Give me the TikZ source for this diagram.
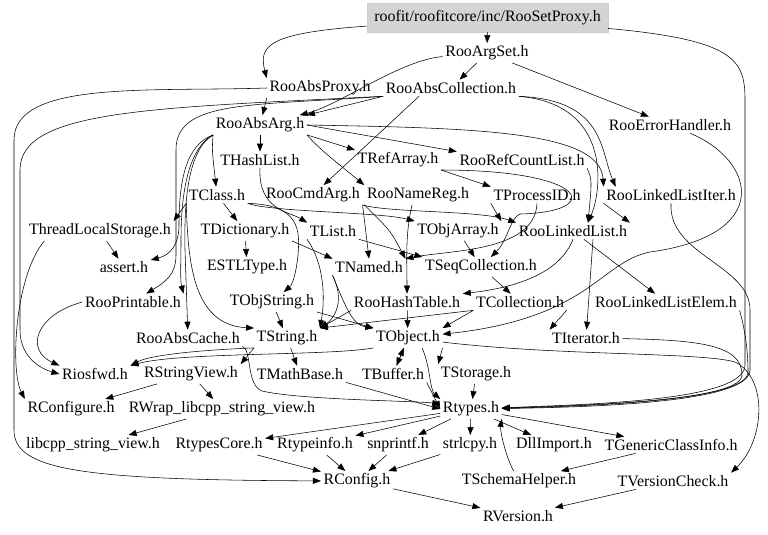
\documentclass[tikz,border=0pt]{standalone}
\usepackage{fontspec}
\setmainfont{Liberation Serif}
\usetikzlibrary{arrows.meta}

\begin{document}
\begin{tikzpicture}[x=1pt,y=1pt,
    hdr/.style={font=\fontsize{15.9}{18}\selectfont, inner sep=2.5pt},
    roothdr/.style={hdr, fill=black!17, draw=black!20, minimum width=241pt, minimum height=29pt, inner sep=0pt},
    inc/.style={-{Triangle[length=8pt,width=6pt]}, line width=0.55pt}]
  \useasboundingbox (0,0) rectangle (768,-535);
  % headers, row by row
  \node[roothdr] (rootfile) at (487.5,-17.5) {roofit/roofitcore/inc/RooSetProxy.h};
  \node[hdr] (rooargset) at (487,-53) {RooArgSet.h};
  \node[hdr] (rooabsproxy) at (320,-88) {RooAbsProxy.h};
  \node[hdr] (rooabscollection) at (451,-88) {RooAbsCollection.h};
  \node[hdr] (rooerrorhandler) at (670,-125) {RooErrorHandler.h};
  \node[hdr] (rooabsarg) at (260,-125) {RooAbsArg.h};
  \node[hdr] (thashlist) at (260,-160) {THashList.h};
  \node[hdr] (trefarray) at (398,-160) {TRefArray.h};
  \node[hdr] (roorefcountlist) at (522,-160) {RooRefCountList.h};
  \node[hdr] (tclass) at (217,-195) {TClass.h};
  \node[hdr] (roocmdarg) at (313,-195) {RooCmdArg.h};
  \node[hdr] (roonamereg) at (418,-195) {RooNameReg.h};
  \node[hdr] (tprocessid) at (537,-195) {TProcessID.h};
  \node[hdr] (roolinkedlistiter) at (671,-195) {RooLinkedListIter.h};
  \node[hdr] (threadlocalstorage) at (100,-231) {ThreadLocalStorage.h};
  \node[hdr] (tdictionary) at (245,-231) {TDictionary.h};
  \node[hdr] (tlist) at (333,-231) {TList.h};
  \node[hdr] (tobjarray) at (458,-231) {TObjArray.h};
  \node[hdr] (roolinkedlist) at (573,-231) {RooLinkedList.h};
  \node[hdr] (assert) at (124,-267) {assert.h};
  \node[hdr] (estltype) at (247,-267) {ESTLType.h};
  \node[hdr] (tnamed) at (369,-267) {TNamed.h};
  \node[hdr] (tseqcollection) at (481,-267) {TSeqCollection.h};
  \node[hdr] (rooprintable) at (133,-302) {RooPrintable.h};
  \node[hdr] (tobjstring) at (272,-302) {TObjString.h};
  \node[hdr] (roohashtable) at (407,-302) {RooHashTable.h};
  \node[hdr] (tcollection) at (520,-302) {TCollection.h};
  \node[hdr] (roolinkedlistelem) at (666,-302) {RooLinkedListElem.h};
  \node[hdr] (rooabscache) at (188,-338) {RooAbsCache.h};
  \node[hdr] (tstring) at (287,-338) {TString.h};
  \node[hdr] (tobject) at (408,-338) {TObject.h};
  \node[hdr] (titerator) at (586,-338) {TIterator.h};
  \node[hdr] (riosfwd) at (95,-374) {Riosfwd.h};
  \node[hdr] (rstringview) at (191,-374) {RStringView.h};
  \node[hdr] (tmathbase) at (300,-374) {TMathBase.h};
  \node[hdr] (tbuffer) at (393,-374) {TBuffer.h};
  \node[hdr] (tstorage) at (476,-374) {TStorage.h};
  \node[hdr] (rconfigure) at (71,-409) {RConfigure.h};
  \node[hdr] (rwrap) at (222,-409) {RWrap\_libcpp\_string\_view.h};
  \node[hdr] (rtypes) at (471,-409) {Rtypes.h};
  \node[hdr] (libcpp) at (93,-445) {libcpp\_string\_view.h};
  \node[hdr] (rtypescore) at (219,-445) {RtypesCore.h};
  \node[hdr] (rtypeinfo) at (315,-445) {Rtypeinfo.h};
  \node[hdr] (snprintf) at (398,-445) {snprintf.h};
  \node[hdr] (strlcpy) at (470,-445) {strlcpy.h};
  \node[hdr] (dllimport) at (554,-445) {DllImport.h};
  \node[hdr] (tgenericclassinfo) at (671,-445) {TGenericClassInfo.h};
  \node[hdr] (rconfig) at (357,-481) {RConfig.h};
  \node[hdr] (tschemahelper) at (519,-481) {TSchemaHelper.h};
  \node[hdr] (tversioncheck) at (673,-481) {TVersionCheck.h};
  \node[hdr] (rversion) at (518,-516) {RVersion.h};

  % includes of the upper files
  \draw[inc] (rootfile) -- (rooargset);
  \draw[inc] (rootfile) .. controls (270,-33) and (258,-45) .. (rooabsproxy.north west);
  \draw[inc] (rootfile) .. controls (735,-40) and (745,-60) .. (745,-100) -- (745,-365) .. controls (745,-400) and (600,-404) .. (rtypes);
  \draw[inc] (rooargset) -- (rooabscollection);
  \draw[inc] (rooargset) -- (rooerrorhandler);
  \draw[inc] (rooargset) .. controls (400,-60) and (340,-105) .. (rooabsarg);
  \draw[inc] (rooabsproxy.south west) -- (rooabsarg);
  \draw[inc] (rooabsproxy.west) .. controls (150,-92) and (14,-80) .. (14,-140) -- (14,-430) .. controls (14,-470) and (80,-480) .. (rconfig);
  \draw[inc] (rooabscollection.south west) -- (rooabsarg.north east);
  \draw[inc] ([xshift=-32pt]rooabscollection.south) -- (roocmdarg);
  \draw[inc] (rooabscollection.south west) .. controls (250,-106) and (176,-100) .. (176,-150) -- (176,-255) .. controls (176,-275) and (165,-282) .. (rooprintable);
  \draw[inc] (rooabscollection.south west) .. controls (150,-108) and (20,-110) .. (20,-170) -- (20,-330) .. controls (20,-360) and (45,-370) .. (riosfwd.west);
  \draw[inc] (rooabscollection.south east) .. controls (605,-100) and (600,-150) .. ([xshift=12pt]roolinkedlistiter.north west);
  \draw[inc] (rooabscollection.south east) .. controls (612,-104) and (602,-190) .. ([xshift=15pt]roolinkedlist.north);
  \draw[inc] (rooerrorhandler) .. controls (755,-160) and (775,-235) .. (650,-252) .. controls (600,-262) and (590,-318) .. (tobject);
  \draw[inc] (rooabsarg) -- (thashlist);
  \draw[inc] (rooabsarg.south east) -- (trefarray.north west);
  \draw[inc] (rooabsarg.east) -- (roorefcountlist.north west);
  \draw[inc] (rooabsarg.east) .. controls (470,-128) and (600,-130) .. (roolinkedlistiter.north west);
  \draw[inc] (rooabsarg.south east) .. controls (320,-150) and (340,-165) .. (roonamereg.north west);
  \draw[inc] (rooabsarg.south west) .. controls (212,-150) .. (tclass);
  \draw[inc] (rooabsarg.south west) .. controls (186,-150) and (181,-200) .. (181,-240) .. controls (181,-265) and (180,-280) .. (rooprintable.north east);
  \draw[inc] (rooabsarg.south west) .. controls (186,-145) and (179,-180) .. (179,-225) .. controls (179,-245) and (170,-255) .. (assert);
  \draw[inc] (rooabsarg.south west) .. controls (188,-150) and (184,-200) .. (185,-250) -- (rooabscache);
  \draw[inc] (roorefcountlist.south east) .. controls (592,-180) .. ([xshift=15pt]roolinkedlist.north);
  \draw[inc] (thashlist.south) .. controls (258,-210) and (290,-212) .. (tlist.north west);
  \draw[inc] (trefarray.south east) -- (tprocessid.north west);
  \draw[inc] (trefarray.south east) .. controls (590,-170) and (605,-212) .. (520,-214) .. controls (510,-218) and (508,-240) .. (tseqcollection);

  % middle part
  \draw[inc] (tclass.south west) -- (threadlocalstorage.north east);
  \draw[inc] (tclass) -- (tdictionary);
  \draw[inc] (tclass.south east) .. controls (270,-212) and (380,-212) .. (tobjarray.north west);
  \draw[inc] (tclass.south east) .. controls (300,-205) and (300,-230) .. (298,-255) .. controls (296,-275) and (292,-285) .. (tobjstring);
  \draw[inc] (tclass.south west) .. controls (188,-260) and (192,-325) .. (tstring.north west);
  \draw[inc] (roocmdarg.south east) -- (tnamed.north);
  \draw[inc] (roocmdarg.south east) .. controls (390,-213) and (480,-210) .. (roolinkedlist.north west);
  \draw[inc] (roonamereg.south west) .. controls (390,-230) .. (tnamed.north east);
  \draw[inc] ([xshift=-6pt]roonamereg.south) .. controls (405,-235) and (407,-260) .. (roohashtable);
  \draw[inc] (tprocessid.south west) -- (tobjarray.north east);
  \draw[inc] (tprocessid.south) .. controls (535,-252) and (450,-250) .. (tnamed.north east);
  \draw[inc] (roolinkedlistiter.south west) -- (roolinkedlist.north east);
  \draw[inc] (roolinkedlistiter.south) .. controls (668,-255) and (750,-265) .. (750,-310) -- (750,-370) .. controls (750,-402) and (600,-407) .. (rtypes);
  \draw[inc] (threadlocalstorage) -- (assert);
  \draw[inc] ([xshift=18pt]threadlocalstorage.south west) .. controls (15,-275) and (10,-370) .. (rconfigure.north west);
  \draw[inc] (tdictionary) -- (estltype);
  \draw[inc] (tdictionary.south east) -- (tnamed.north west);
  \draw[inc] (tlist.south east) -- (tseqcollection.north west);
  \draw[inc] (tlist.south west) .. controls (325,-265) and (325,-300) .. (tstring.north east);
  \draw[inc] (tobjarray) -- (tseqcollection);
  \draw[inc] (roolinkedlist.south) .. controls (560,-272) and (520,-287) .. (roohashtable.north east);
  \draw[inc] (roolinkedlist) -- (roolinkedlistelem);
  \draw[inc] ([xshift=20pt]roolinkedlist.south) -- (titerator);
  \draw[inc] (tnamed.south west) .. controls (345,-300) and (335,-318) .. (tstring.north east);
  \draw[inc] (tnamed.south west) .. controls (345,-305) and (352,-325) .. (tobject.north west);
  \draw[inc] (tseqcollection) -- (tcollection);
  \draw[inc] (rooprintable.west) .. controls (35,-315) and (25,-350) .. (riosfwd.north west);
  \draw[inc] (tobjstring) -- (tstring);
  \draw[inc] (tobjstring.south east) -- (tobject.north west);
  \draw[inc] (roohashtable) -- (tobject);
  \draw[inc] (roohashtable.south west) -- (tstring.north east);
  \draw[inc] (tcollection.south west) -- (tobject.north east);
  \draw[inc] (tcollection.south east) -- (titerator.north west);
  \draw[inc] (tcollection.south west) -- (tstring.north east);
  \draw[inc] (roolinkedlistelem.south east) .. controls (745,-330) and (748,-350) .. (748,-372) .. controls (748,-400) and (600,-406) .. (rtypes);

  % lower part
  \draw[inc] (rooabscache.south east) .. controls (252,-350) and (246,-385) .. (262,-391) .. controls (300,-400) and (420,-401) .. (rtypes);
  \draw[inc] (tstring.south west) -- (rstringview.north east);
  \draw[inc] (tstring) -- (tmathbase);
  \draw[inc] (tstring.south west) .. controls (200,-350) and (150,-355) .. (riosfwd.north east);
  \draw[inc] (tobject.south west) .. controls (330,-356) and (180,-352) .. (riosfwd.north east);
  \draw[inc] (tobject) -- (tbuffer);
  \draw[inc] (tbuffer) -- (tobject);
  \draw[inc] (tobject.south east) -- (tstorage.north west);
  \draw[inc] ([xshift=14pt]tobject.south) .. controls (430,-365) and (430,-390) .. (rtypes.north west);
  \draw[inc] (tobject) .. controls (560,-356) and (700,-352) .. (735,-362) .. controls (768,-378) and (765,-440) .. (tversioncheck.north east);
  \draw[inc] (titerator) .. controls (700,-340) and (742,-345) .. (742,-375) .. controls (742,-400) and (600,-405) .. (rtypes);
  \draw[inc] (tbuffer.south east) -- (rtypes.west);
  \draw[inc] (tmathbase.south east) -- (rtypes.west);
  \draw[inc] (tstorage) -- (rtypes);
  \draw[inc] (rstringview) -- (rconfigure);
  \draw[inc] (rstringview) -- (rwrap);
  \draw[inc] (rwrap) -- (libcpp);
  \draw[inc] (rtypes) -- (rtypescore);
  \draw[inc] (rtypes) -- (rtypeinfo);
  \draw[inc] (rtypes) -- (snprintf);
  \draw[inc] (rtypes) -- (strlcpy);
  \draw[inc] (rtypes) -- (dllimport);
  \draw[inc] (rtypes) -- (tgenericclassinfo);
  \draw[inc] (rtypescore) -- (rconfig);
  \draw[inc] (rtypeinfo) -- (rconfig);
  \draw[inc] (snprintf) -- (rconfig);
  \draw[inc] (strlcpy) -- (rconfig);
  \draw[inc] (tgenericclassinfo) -- (tschemahelper);
  \draw[inc] (tschemahelper) .. controls (505,-455) and (500,-430) .. (rtypes.south east);
  \draw[inc] (rconfig) -- (rversion);
  \draw[inc] (tversioncheck) -- (rversion);
\end{tikzpicture}
\end{document}
